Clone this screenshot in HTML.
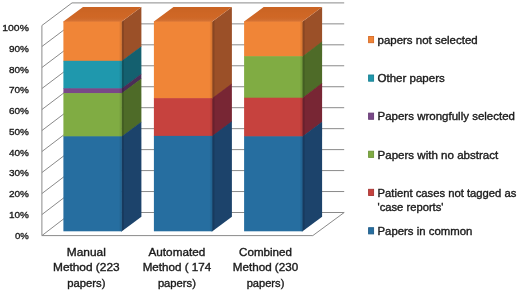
<!DOCTYPE html>
<html><head><meta charset="utf-8"><style>
html,body{margin:0;padding:0;background:#fff;}
body{width:520px;height:291px;overflow:hidden;}
svg{display:block;position:absolute;left:0;top:0;}
.t{will-change:transform;}
text{font-family:"Liberation Sans",sans-serif;font-size:10.5px;fill:#1a1a1a;stroke:#1a1a1a;stroke-width:0.35px;}
.y{font-size:9.9px;}
</style></head><body>
<svg width="520" height="291" viewBox="0 0 520 291">
<defs>
<linearGradient id="fr" x1="0" y1="0" x2="1" y2="0"><stop offset="0" stop-color="#000" stop-opacity="0"/><stop offset="1" stop-color="#000" stop-opacity="0.13"/></linearGradient>
<linearGradient id="tg" x1="0" y1="0" x2="0" y2="1"><stop offset="0" stop-color="#000" stop-opacity="0.06"/><stop offset="0.6" stop-color="#000" stop-opacity="0.03"/><stop offset="1" stop-color="#fff" stop-opacity="0.10"/></linearGradient>
</defs>
<rect width="520" height="291" fill="#fff"/>
<polyline points="41.9,235.6 72,212.5 344.2,212.5" fill="none" stroke="#8a8a8a" stroke-width="1"/>
<polyline points="41.9,214.59 72,191.54 344.2,191.54" fill="none" stroke="#8a8a8a" stroke-width="1"/>
<polyline points="41.9,193.58 72,170.58 344.2,170.58" fill="none" stroke="#8a8a8a" stroke-width="1"/>
<polyline points="41.9,172.57 72,149.62 344.2,149.62" fill="none" stroke="#8a8a8a" stroke-width="1"/>
<polyline points="41.9,151.56 72,128.66 344.2,128.66" fill="none" stroke="#8a8a8a" stroke-width="1"/>
<polyline points="41.9,130.55 72,107.7 344.2,107.7" fill="none" stroke="#8a8a8a" stroke-width="1"/>
<polyline points="41.9,109.54 72,86.74 344.2,86.74" fill="none" stroke="#8a8a8a" stroke-width="1"/>
<polyline points="41.9,88.53 72,65.78 344.2,65.78" fill="none" stroke="#8a8a8a" stroke-width="1"/>
<polyline points="41.9,67.52 72,44.82 344.2,44.82" fill="none" stroke="#8a8a8a" stroke-width="1"/>
<polyline points="41.9,46.51 72,23.86 344.2,23.86" fill="none" stroke="#8a8a8a" stroke-width="1"/>
<polyline points="41.9,25.5 72,2.9 344.2,2.9" fill="none" stroke="#8a8a8a" stroke-width="1"/>
<line x1="41.9" y1="25.5" x2="41.9" y2="235.6" stroke="#8a8a8a" stroke-width="1"/>
<polyline points="41.9,235.6 312.8,235.6 344.2,212.5" fill="none" stroke="#8a8a8a" stroke-width="1"/>
<polygon points="121.2,61.86 141.4,46.81 141.4,7 121.2,22.05" fill="#9b5028"/>
<polygon points="121.2,89.33 141.4,74.28 141.4,46.21 121.2,61.26" fill="#14606f"/>
<polygon points="121.2,94.15 141.4,79.11 141.4,73.68 121.2,88.73" fill="#4b2d57"/>
<polygon points="121.2,137.35 141.4,122.31 141.4,78.51 121.2,93.55" fill="#4e6b28"/>
<polygon points="121.2,231.75 141.4,216.7 141.4,121.71 121.2,136.75" fill="#1c436b"/>
<polygon points="121.8,231.3 124,229.66 124,19.96 121.8,21.6" fill="#000" fill-opacity="0.12"/>
<polygon points="63.4,22.2 63.4,21.6 83,7 141.4,7 121.8,21.6 121.8,22.2" fill="#d66a26"/>
<polygon points="63.4,22.2 63.4,21.6 83,7 141.4,7 121.8,21.6 121.8,22.2" fill="url(#tg)"/>
<rect x="63.4" y="21.6" width="58.4" height="39.81" fill="#f08537"/>
<rect x="63.4" y="60.81" width="58.4" height="28.07" fill="#1f98ad"/>
<rect x="63.4" y="88.28" width="58.4" height="5.42" fill="#794888"/>
<rect x="63.4" y="93.11" width="58.4" height="43.8" fill="#80ac43"/>
<rect x="63.4" y="136.31" width="58.4" height="94.99" fill="#266ea0"/>
<rect x="118.8" y="21.6" width="3" height="209.7" fill="url(#fr)"/>
<polygon points="211.7,99.19 231.9,84.14 231.9,7 211.7,22.05" fill="#9b5028"/>
<polygon points="211.7,136.93 231.9,121.89 231.9,83.54 211.7,98.59" fill="#782634"/>
<polygon points="211.7,231.75 231.9,216.7 231.9,121.29 211.7,136.33" fill="#1c436b"/>
<polygon points="212.3,231.3 214.5,229.66 214.5,19.96 212.3,21.6" fill="#000" fill-opacity="0.12"/>
<polygon points="153.9,22.2 153.9,21.6 173.5,7 231.9,7 212.3,21.6 212.3,22.2" fill="#d66a26"/>
<polygon points="153.9,22.2 153.9,21.6 173.5,7 231.9,7 212.3,21.6 212.3,22.2" fill="url(#tg)"/>
<rect x="153.9" y="21.6" width="58.4" height="77.14" fill="#f08537"/>
<rect x="153.9" y="98.14" width="58.4" height="38.35" fill="#c6423e"/>
<rect x="153.9" y="135.89" width="58.4" height="95.41" fill="#266ea0"/>
<rect x="209.3" y="21.6" width="3" height="209.7" fill="url(#fr)"/>
<polygon points="301.9,57.25 322.1,42.2 322.1,7 301.9,22.05" fill="#9b5028"/>
<polygon points="301.9,98.77 322.1,83.72 322.1,41.6 301.9,56.65" fill="#4e6b28"/>
<polygon points="301.9,137.35 322.1,122.31 322.1,83.12 301.9,98.17" fill="#782634"/>
<polygon points="301.9,231.75 322.1,216.7 322.1,121.71 301.9,136.75" fill="#1c436b"/>
<polygon points="302.5,231.3 304.7,229.66 304.7,19.96 302.5,21.6" fill="#000" fill-opacity="0.12"/>
<polygon points="244.1,22.2 244.1,21.6 263.7,7 322.1,7 302.5,21.6 302.5,22.2" fill="#d66a26"/>
<polygon points="244.1,22.2 244.1,21.6 263.7,7 322.1,7 302.5,21.6 302.5,22.2" fill="url(#tg)"/>
<rect x="244.1" y="21.6" width="58.4" height="35.2" fill="#f08537"/>
<rect x="244.1" y="56.2" width="58.4" height="42.12" fill="#80ac43"/>
<rect x="244.1" y="97.72" width="58.4" height="39.18" fill="#c6423e"/>
<rect x="244.1" y="136.31" width="58.4" height="94.99" fill="#266ea0"/>
<rect x="299.5" y="21.6" width="3" height="209.7" fill="url(#fr)"/>
</svg>
<svg class="t" width="520" height="291" viewBox="0 0 520 291">
<text class="y" x="28.9" y="31" text-anchor="end" textLength="26.6" lengthAdjust="spacingAndGlyphs">100%</text>
<text class="y" x="28.9" y="51.75" text-anchor="end" textLength="20" lengthAdjust="spacingAndGlyphs">90%</text>
<text class="y" x="28.9" y="72.5" text-anchor="end" textLength="20" lengthAdjust="spacingAndGlyphs">80%</text>
<text class="y" x="28.9" y="93.25" text-anchor="end" textLength="20" lengthAdjust="spacingAndGlyphs">70%</text>
<text class="y" x="28.9" y="114" text-anchor="end" textLength="20" lengthAdjust="spacingAndGlyphs">60%</text>
<text class="y" x="28.9" y="134.75" text-anchor="end" textLength="20" lengthAdjust="spacingAndGlyphs">50%</text>
<text class="y" x="28.9" y="155.5" text-anchor="end" textLength="20" lengthAdjust="spacingAndGlyphs">40%</text>
<text class="y" x="28.9" y="176.25" text-anchor="end" textLength="20" lengthAdjust="spacingAndGlyphs">30%</text>
<text class="y" x="28.9" y="197" text-anchor="end" textLength="20" lengthAdjust="spacingAndGlyphs">20%</text>
<text class="y" x="28.9" y="217.75" text-anchor="end" textLength="20" lengthAdjust="spacingAndGlyphs">10%</text>
<text class="y" x="28.9" y="238.5" text-anchor="end" textLength="13.9" lengthAdjust="spacingAndGlyphs">0%</text>
<text x="86.3" y="255.8" text-anchor="middle" textLength="39" lengthAdjust="spacingAndGlyphs">Manual</text>
<text x="86.3" y="271.2" text-anchor="middle" textLength="66.6" lengthAdjust="spacingAndGlyphs">Method (223</text>
<text x="86.3" y="287" text-anchor="middle" textLength="38.2" lengthAdjust="spacingAndGlyphs">papers)</text>
<text x="176.9" y="255.8" text-anchor="middle" textLength="56.8" lengthAdjust="spacingAndGlyphs">Automated</text>
<text x="176.9" y="271.2" text-anchor="middle" textLength="68.5" lengthAdjust="spacingAndGlyphs">Method ( 174</text>
<text x="176.9" y="287" text-anchor="middle" textLength="38" lengthAdjust="spacingAndGlyphs">papers)</text>
<text x="265.5" y="255.8" text-anchor="middle" textLength="52.8" lengthAdjust="spacingAndGlyphs">Combined</text>
<text x="265.5" y="271.2" text-anchor="middle" textLength="65.4" lengthAdjust="spacingAndGlyphs">Method (230</text>
<text x="265.5" y="287" text-anchor="middle" textLength="37.7" lengthAdjust="spacingAndGlyphs">papers)</text>
<rect x="368.6" y="36.5" width="5" height="6.2" fill="#f08537" stroke="#d66a26" stroke-width="0.9"/>
<text x="377.5" y="43.8" text-anchor="start" textLength="100.2" lengthAdjust="spacingAndGlyphs">papers not selected</text>
<rect x="368.6" y="75" width="5" height="6.2" fill="#1f98ad" stroke="#1a8092" stroke-width="0.9"/>
<text x="377.5" y="82.3" text-anchor="start" textLength="67.3" lengthAdjust="spacingAndGlyphs">Other papers</text>
<rect x="368.6" y="113.1" width="5" height="6.2" fill="#794888" stroke="#663c74" stroke-width="0.9"/>
<text x="377.5" y="120.4" text-anchor="start" textLength="137.5" lengthAdjust="spacingAndGlyphs">Papers wrongfully selected</text>
<rect x="368.6" y="151.2" width="5" height="6.2" fill="#80ac43" stroke="#6c9439" stroke-width="0.9"/>
<text x="377.5" y="158.5" text-anchor="start" textLength="120.8" lengthAdjust="spacingAndGlyphs">Papers with no abstract</text>
<rect x="368.6" y="189.3" width="5" height="6.2" fill="#c6423e" stroke="#a63634" stroke-width="0.9"/>
<text x="377.5" y="196.6" text-anchor="start" textLength="138.9" lengthAdjust="spacingAndGlyphs">Patient cases not tagged as</text>
<rect x="368.6" y="227.7" width="5" height="6.2" fill="#266ea0" stroke="#215c88" stroke-width="0.9"/>
<text x="377.5" y="235" text-anchor="start" textLength="94.8" lengthAdjust="spacingAndGlyphs">Papers in common</text>
<text x="377.5" y="211.4" text-anchor="start" textLength="66" lengthAdjust="spacingAndGlyphs">'case reports'</text>
</svg>
</body></html>
